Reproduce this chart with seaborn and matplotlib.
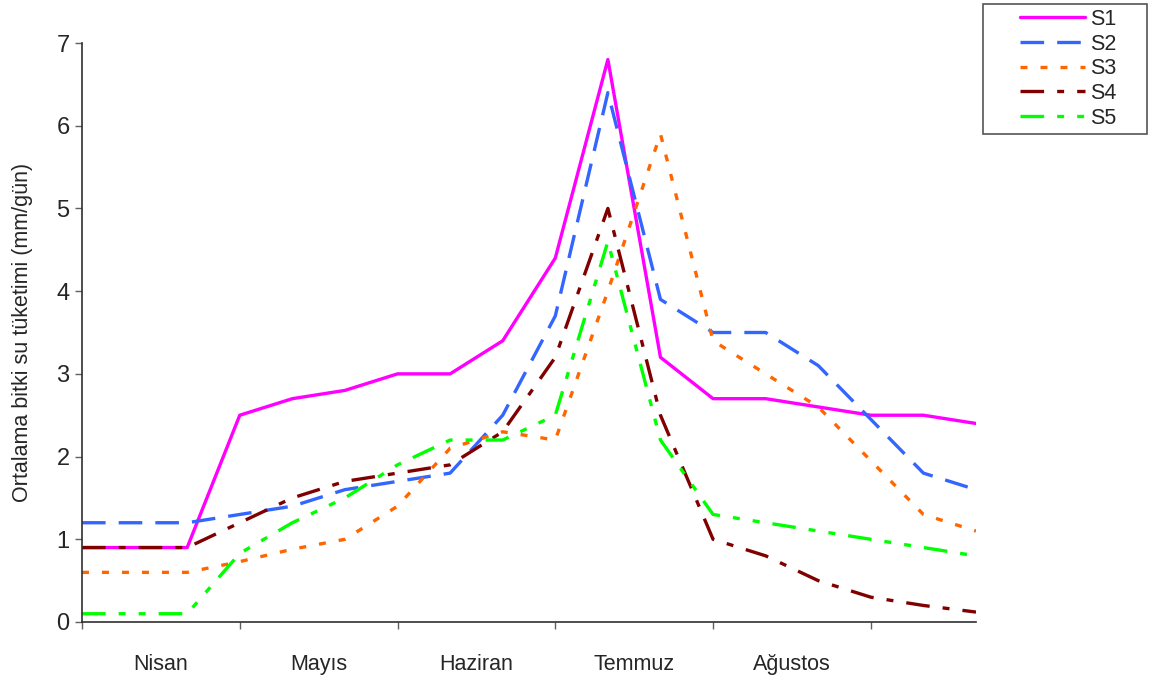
import numpy as np
import pandas as pd
import matplotlib
matplotlib.use("Agg")
import matplotlib.pyplot as plt
from matplotlib.patches import Rectangle
import seaborn as sns

# Ten-day periods from April to early September
periods = list(range(18))
months = ["Nisan", "Mayıs", "Haziran", "Temmuz", "Ağustos"]
series_names = ["S1", "S2", "S3", "S4", "S5"]

s1 = [0.9, 0.9, 0.9, 2.5, 2.7, 2.8, 3.0, 3.0, 3.4, 4.4, 6.8, 3.2, 2.7, 2.7, 2.6, 2.5, 2.5, 2.4]
s2 = [1.2, 1.2, 1.2, 1.3, 1.4, 1.6, 1.7, 1.8, 2.5, 3.7, 6.4, 3.9, 3.5, 3.5, 3.1, 2.45, 1.8, 1.6]
s3 = [0.6, 0.6, 0.6, 0.73, 0.88, 1.0, 1.4, 2.1, 2.3, 2.2, 4.0, 5.9, 3.4, 3.0, 2.6, 1.95, 1.3, 1.1]
s4 = [0.9, 0.9, 0.9, 1.2, 1.5, 1.7, 1.8, 1.9, 2.3, 3.2, 5.0, 2.5, 1.0, 0.8, 0.5, 0.3, 0.2, 0.12]
s5 = [0.1, 0.1, 0.1, 0.83, 1.2, 1.5, 1.9, 2.2, 2.2, 2.5, 4.6, 2.2, 1.3, 1.2, 1.1, 1.0, 0.9, 0.8]

frames = []
for name, vals in zip(series_names, [s1, s2, s3, s4, s5]):
    frames.append(pd.DataFrame({"period": periods, "value": vals, "series": name}))
df = pd.concat(frames, ignore_index=True)

palette = {"S1": "#FF00FF", "S2": "#3366FF", "S3": "#FF6600",
           "S4": "#800000", "S5": "#00FF00"}
dash_styles = {"S1": "",
               "S2": (17, 9.4),
               "S3": (5, 9.4),
               "S4": (17, 9.4, 5, 9.4),
               "S5": (17, 9.4, 5, 9.4, 5, 9.4)}

sns.set_style("white")
plt.rcParams["font.family"] = ["Liberation Sans", "DejaVu Sans"]
plt.rcParams["lines.scale_dashes"] = False

fig = plt.figure(figsize=(11.5, 6.82), dpi=100)
ax = fig.add_axes([82 / 1150, 60 / 682, 894 / 1150, 579 / 682])

sns.lineplot(data=df, x="period", y="value", hue="series", style="series",
             hue_order=series_names, style_order=series_names,
             palette=palette, dashes=dash_styles, linewidth=2.4,
             legend=False, ax=ax)

ax.set_xlim(0, 17)
ax.set_ylim(0, 7)

# Axis spines
for side in ["top", "right"]:
    ax.spines[side].set_visible(False)
for side in ["left", "bottom"]:
    ax.spines[side].set_color("#303030")
    ax.spines[side].set_linewidth(1.2)

# Y axis
ax.set_yticks(range(0, 8))
ax.tick_params(axis="y", direction="out", length=5, width=1, color="#606060",
               labelsize=17, pad=4, left=True)
ax.set_ylabel("Ortalama bitki su tüketimi (mm/gün)", fontsize=15.5, labelpad=17)

# X axis: tick marks separate months, labels centred between them
ax.set_xticks([0, 3, 6, 9, 12, 15])
ax.set_xticklabels([])
ax.set_xticks([1.5, 4.5, 7.5, 10.5, 13.5], minor=True)
ax.set_xticklabels(months, minor=True)
ax.tick_params(axis="x", which="major", direction="out", length=5, width=1,
               color="#606060", bottom=True)
ax.tick_params(axis="x", which="minor", length=0, labelsize=15.5, pad=23,
               bottom=True)
ax.set_xlabel("")

# Legend box in the upper right corner
fig.add_artist(Rectangle((983 / 1150, 1 - 134 / 682), 164 / 1150, 130 / 682,
                         transform=fig.transFigure, facecolor="white",
                         edgecolor="#555555", linewidth=1.2))
leg = fig.legend(handles=ax.lines[:5], labels=series_names,
                 loc="upper left", bbox_to_anchor=(1020 / 1150, 1 - 9 / 682),
                 frameon=False, fontsize=15.5, handlelength=3.0,
                 handletextpad=0.25, labelspacing=0.17, borderpad=0,
                 borderaxespad=0)

fig.savefig("out.png", dpi=100)
